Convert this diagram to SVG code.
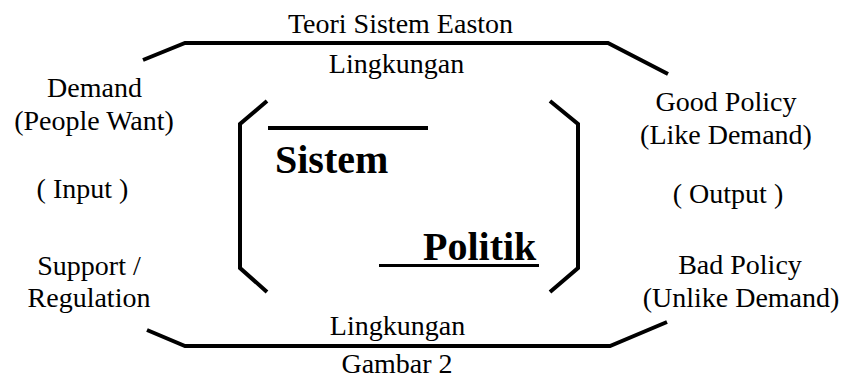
<svg xmlns="http://www.w3.org/2000/svg" width="845" height="378" viewBox="0 0 845 378">
  <style>
    .t { font-family: "Liberation Serif", "Times New Roman", serif; font-size: 28px; fill: #000; text-anchor: middle; }
    .b { font-family: "Liberation Serif", "Times New Roman", serif; font-size: 40px; font-weight: bold; fill: #000; }
    .ln { fill: none; stroke: #000; stroke-width: 4; stroke-linejoin: miter; }
  </style>
  <rect width="845" height="378" fill="#fff"/>
  <g id="title">
    <text class="t" x="400.5" y="33">Teori Sistem Easton</text>
  </g>
  <g id="environment">
    <path class="ln" d="M143,60 L185,43 L608,43 L668,74"/>
    <path class="ln" d="M147,330 L185,346 L610,346 L667,322"/>
    <text class="t" x="396.5" y="73">Lingkungan</text>
    <text class="t" x="397.5" y="335">Lingkungan</text>
  </g>
  <g id="sistem-politik">
    <path class="ln" d="M267,101 L240,124 L240,268 L267,292"/>
    <path class="ln" d="M550,101 L578,124 L578,268 L550,292"/>
    <line x1="268" y1="128" x2="428" y2="128" stroke="#000" stroke-width="4"/>
    <text class="b" x="275" y="173">Sistem</text>
    <text class="b" x="423" y="260">Politik</text>
    <line x1="379" y1="265.5" x2="539" y2="265.5" stroke="#000" stroke-width="3"/>
  </g>
  <g id="input">
    <text class="t" x="94.5" y="97">Demand</text>
    <text class="t" x="94" y="130">(People Want)</text>
    <text class="t" x="82.5" y="198">( Input )</text>
    <text class="t" x="89" y="275">Support /</text>
    <text class="t" x="89" y="307">Regulation</text>
  </g>
  <g id="output">
    <text class="t" x="726" y="111">Good Policy</text>
    <text class="t" x="726" y="144">(Like Demand)</text>
    <text class="t" x="728" y="203">( Output )</text>
    <text class="t" x="740" y="274">Bad Policy</text>
    <text class="t" x="741" y="307">(Unlike Demand)</text>
  </g>
  <g id="caption">
    <text class="t" x="397" y="373">Gambar 2</text>
  </g>
</svg>
